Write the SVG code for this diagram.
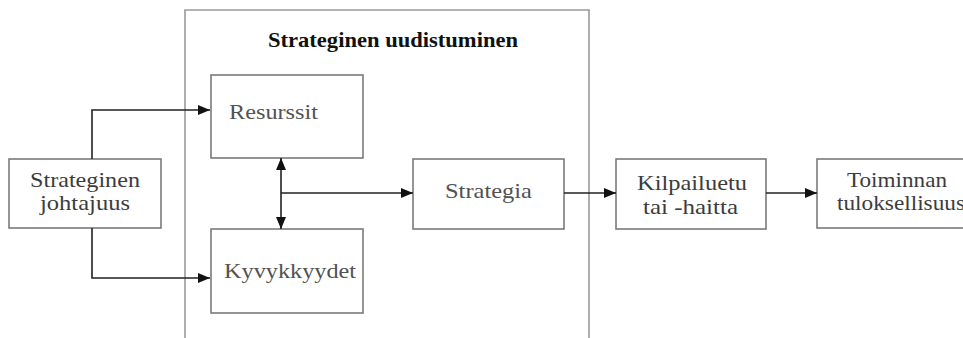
<svg xmlns="http://www.w3.org/2000/svg" width="963" height="338" viewBox="0 0 963 338">
  <style>
    .box { fill: #fff; stroke: #7a7a7a; stroke-width: 1.6; }
    .frame { fill: none; stroke: #9a9a9a; stroke-width: 1.6; }
    .lbl { font-family: "Liberation Serif", "DejaVu Serif", "Noto Serif", serif; font-size: 22px; fill: #3c3c3c; }
    .soft { fill: #525252; }
    .title { font-family: "Liberation Serif", "DejaVu Serif", "Noto Serif", serif; font-size: 21px; font-weight: bold; fill: #111; }
    .wire { fill: none; stroke: #222; stroke-width: 1.6; }
  </style>
  <defs>
    <marker id="head" viewBox="0 0 12 10" refX="12" refY="5" markerWidth="12" markerHeight="10" markerUnits="userSpaceOnUse" orient="auto-start-reverse">
      <path d="M0,0 L12,5 L0,10 z" fill="#111"/>
    </marker>
  </defs>
  <rect width="963" height="338" fill="#fff"/>

  <!-- renewal frame, open at the bottom -->
  <g id="uudistuminen">
    <path class="frame" d="M185,340 V10 H589 V340"/>
    <text class="title" x="268" y="47" textLength="250" lengthAdjust="spacingAndGlyphs">Strateginen uudistuminen</text>
  </g>

  <g id="johtajuus">
    <rect class="box" x="9" y="159" width="152" height="69"/>
    <text class="lbl" x="30" y="187" textLength="110" lengthAdjust="spacingAndGlyphs">Strateginen</text>
    <text class="lbl" x="40" y="210" textLength="90" lengthAdjust="spacingAndGlyphs">johtajuus</text>
  </g>

  <g id="resurssit">
    <rect class="box" x="211" y="75" width="152" height="83"/>
    <text class="lbl soft" x="229" y="119" textLength="89" lengthAdjust="spacingAndGlyphs">Resurssit</text>
  </g>

  <g id="kyvykkyydet">
    <rect class="box" x="211" y="229" width="152" height="84"/>
    <text class="lbl soft" x="224" y="278" textLength="132" lengthAdjust="spacingAndGlyphs">Kyvykkyydet</text>
  </g>

  <g id="strategia">
    <rect class="box" x="413" y="159" width="151" height="70"/>
    <text class="lbl soft" x="445" y="198" textLength="87" lengthAdjust="spacingAndGlyphs">Strategia</text>
  </g>

  <g id="kilpailuetu">
    <rect class="box" x="616" y="159" width="150" height="70"/>
    <text class="lbl" x="637" y="190" textLength="110" lengthAdjust="spacingAndGlyphs">Kilpailuetu</text>
    <text class="lbl" x="643" y="214" textLength="95" lengthAdjust="spacingAndGlyphs">tai -haitta</text>
  </g>

  <g id="tuloksellisuus">
    <rect class="box" x="817" y="159" width="160" height="69"/>
    <text class="lbl" x="847" y="187" textLength="100" lengthAdjust="spacingAndGlyphs">Toiminnan</text>
    <text class="lbl" x="837" y="210" textLength="128" lengthAdjust="spacingAndGlyphs">tuloksellisuus</text>
  </g>

  <g id="connectors">
    <path class="wire" d="M92,159 V110 H210" marker-end="url(#head)"/>
    <path class="wire" d="M92,228 V278 H210" marker-end="url(#head)"/>
    <path class="wire" d="M281,158 V229" marker-start="url(#head)" marker-end="url(#head)"/>
    <path class="wire" d="M281,193 H413" marker-end="url(#head)"/>
    <path class="wire" d="M564,193 H616" marker-end="url(#head)"/>
    <path class="wire" d="M766,193 H817" marker-end="url(#head)"/>
  </g>
</svg>
